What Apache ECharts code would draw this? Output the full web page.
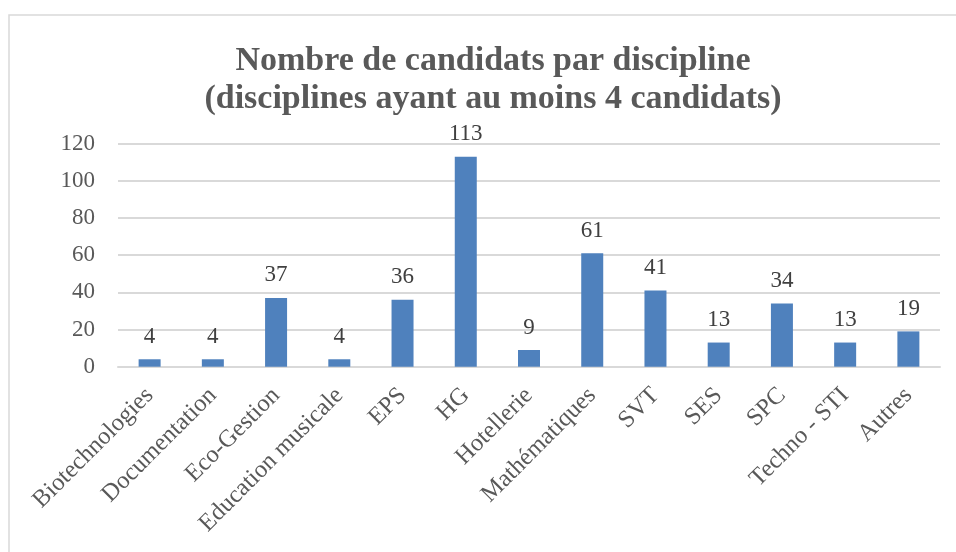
<!DOCTYPE html>
<html>
<head>
<meta charset="utf-8">
<script src="https://cdn.jsdelivr.net/npm/echarts@6/dist/echarts.min.js"></script>
<style>
  html, body { margin: 0; padding: 0; background: #fff; }
  #chart { width: 956px; height: 552px; }
</style>
</head>
<body>
<div id="chart"></div>
<script>
// données
const disciplines = ['Biotechnologies', 'Documentation', 'Eco-Gestion', 'Education musicale', 'EPS', 'HG',
  'Hotellerie', 'Mathématiques', 'SVT', 'SES', 'SPC', 'Techno - STI', 'Autres']
const candidats = [4, 4, 37, 4, 36, 113, 9, 61, 41, 13, 34, 13, 19]
const yTicks = [0, 20, 40, 60, 80, 100, 120]

const fontFam = '"Liberation Serif", serif'
const chart = echarts.init(document.getElementById('chart'))
const option = {
  animation: false,
  title: {
    text: 'Nombre de candidats par discipline\n(disciplines ayant au moins 4 candidats)',
    left: 488,
    top: 37,
    textAlign: 'center',
    textStyle: {
      fontFamily: fontFam,
      fontWeight: 'bold',
      fontSize: 34,
      lineHeight: 38,
      color: '#595959'
    }
  },
  // cadre du graphique
  graphic: [{
    type: 'rect',
    shape: { x: 9, y: 15, width: 1000, height: 600 },
    style: { fill: 'none', stroke: '#D9D9D9', lineWidth: 1.5 },
    silent: true
  }],
  grid: {
    left: 118,
    right: 16,
    top: 143.7,
    bottom: 185.3,
    outerBoundsMode: 'none'
  },
  xAxis: {
    type: 'category',
    data: disciplines,
    axisTick: { show: false },
    axisLine: { lineStyle: { color: '#D9D9D9', width: 2 } },
    axisLabel: {
      rotate: 45,
      interval: 0,
      margin: 25,
      fontFamily: fontFam,
      fontSize: 24.5,
      color: '#595959'
    }
  },
  yAxis: {
    type: 'value',
    min: yTicks[0],
    max: yTicks[yTicks.length - 1],
    interval: yTicks[1] - yTicks[0],
    axisLine: { show: false },
    axisTick: { show: false },
    splitLine: { lineStyle: { color: '#D9D9D9', width: 2 } },
    axisLabel: {
      margin: 23,
      fontFamily: fontFam,
      fontSize: 23,
      color: '#595959'
    }
  },
  series: [{
    type: 'bar',
    data: candidats,
    barWidth: 22,
    itemStyle: { color: '#4F81BD' },
    label: {
      show: true,
      position: 'top',
      distance: 11,
      fontFamily: fontFam,
      fontSize: 23,
      color: '#404040'
    }
  }]
}
chart.setOption(option)
</script>
</body>
</html>
